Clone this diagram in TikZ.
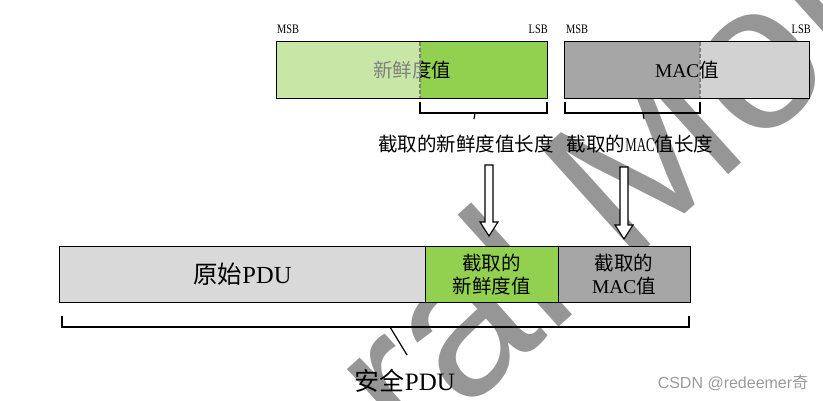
\documentclass[tikz,border=0pt]{standalone}
\usepackage{fontspec}
\setmainfont{Liberation Serif}
\newfontfamily\cjk{Noto Sans CJK SC}
\newfontfamily\wmfont{Liberation Sans}
\usetikzlibrary{calc}
\definecolor{fgreen}{HTML}{92D050}
\definecolor{mgray}{HTML}{A6A6A6}
\definecolor{pgray}{HTML}{D9D9D9}
\definecolor{wmgray}{HTML}{969696}
\definecolor{csdn}{HTML}{9A9A9A}
\newcommand\fs[1]{\fontsize{#1}{#1}\selectfont}
\newcommand\narrow[1]{\scalebox{0.66}[1]{#1}}
\begin{document}
\begin{tikzpicture}[x=1pt,y=-1pt,
  fieldbox/.style={draw=none, inner sep=0pt, minimum height=56pt},
  border/.style={draw=black, line width=1.3pt},
  divline/.style={draw=gray, line width=1.4pt, dash pattern=on 4pt off 2pt},
  brace/.style={draw=black, line width=1.2pt},
  lbl/.style={inner sep=0pt, font=\fs{19.5}},
  msb/.style={inner sep=0pt, font=\fs{13}},
  hollow/.style={draw=black, fill=white, line width=1.1pt, line join=miter},
  wm/.style={text=wmgray, inner sep=0pt, rotate=42, font=\wmfont\fs{208}}
]
\useasboundingbox (0,0) rectangle (823,401);
% watermark
\coordinate (wmA) at (462,414);
\node[wm, anchor=base east] (wm1) at (wmA) {Gener};
\node[wm, anchor=base west] (wm2) at (wmA) {al Motors};

% ---- top-left: freshness value
\node[fieldbox, fill=fgreen, minimum width=270pt] (fresh) at (412,70) {\cjk\fs{19.5}新鲜度值};
\coordinate (fdivT) at (420,42);
\coordinate (fdivB) at (420,98);
\fill[white, fill opacity=0.5] (fresh.north west) rectangle (fdivB);
\draw[divline] (fdivT) -- (fdivB);
\draw[border] (fresh.north west) rectangle (fresh.south east);
\node[msb, anchor=base west] (msb1) at (277,34) {\scalebox{0.8}[1]{MSB}};
\node[msb, anchor=base east] (lsb1) at (548,34) {\scalebox{0.8}[1]{LSB}};

% ---- top-right: MAC value
\node[fieldbox, fill=mgray, minimum width=244pt] (mac) at (687,70) {};
\coordinate (mdivT) at (700,42);
\coordinate (mdivB) at (700,98);
\fill[white, fill opacity=0.5] (mdivT) rectangle (mac.south east);
\draw[divline] (mdivT) -- (mdivB);
\draw[border] (mac.north west) rectangle (mac.south east);
\node[inner sep=0pt] (mactext) at (mac.center) {\fs{19.5}MAC{\cjk 值}};
\node[msb, anchor=base west] (msb2) at (566,34) {\scalebox{0.8}[1]{MSB}};
\node[msb, anchor=base east] (lsb2) at (811,34) {\scalebox{0.8}[1]{LSB}};

% ---- brackets under the truncated parts
\draw[brace] (420,102) -- (420,113) -- (547,113) -- (547,102);
\draw[brace] (475,113) -- (474,119);
\draw[brace] (565,102) -- (565,113) -- (700,113) -- (700,102);
\draw[brace] (643,113) -- (644,119);

% ---- length labels
\node[lbl] (lenF) at (466,144) {\cjk 截取的新鲜度值长度};
\node[lbl] (lenM) at (640,144) {{\cjk 截取的}\narrow{MAC}{\cjk 值长度}};

% ---- bottom secured PDU
\node[fieldbox, fill=pgray, minimum width=365pt, minimum height=55pt] (orig) at (242.5,274.5) {\fs{24.5}{\cjk 原始}PDU};
\node[fieldbox, fill=fgreen, minimum width=133pt, minimum height=55pt, align=center, font=\fs{19.5}] (tfresh) at (491.5,274.5) {\cjk 截取的\\[3pt]\cjk 新鲜度值};
\node[fieldbox, fill=mgray, minimum width=132pt, minimum height=55pt, align=center, font=\fs{19.5}] (tmac) at (624,274.5) {{\cjk 截取的}\\[3pt]MAC{\cjk 值}};
\draw[border] (orig.north west) rectangle (tmac.south east);
\draw[border] (orig.north east) -- (orig.south east);
\draw[border] (tfresh.north east) -- (tfresh.south east);

% ---- hollow arrows
\coordinate (a1s) at (489,165);
\coordinate (a1e) at (489,236);
\coordinate (a2s) at (624,167);
\coordinate (a2e) at (624,239);
\draw[hollow] ($(a1s)+(-4,0)$) -- ($(a1e)+(-4,-14)$) -- ($(a1e)+(-9,-14)$) -- (a1e) -- ($(a1e)+(9,-14)$) -- ($(a1e)+(4,-14)$) -- ($(a1s)+(4,0)$) -- cycle;
\draw[hollow] ($(a2s)+(-4,0)$) -- ($(a2e)+(-4,-14)$) -- ($(a2e)+(-9,-14)$) -- (a2e) -- ($(a2e)+(9,-14)$) -- ($(a2e)+(4,-14)$) -- ($(a2s)+(4,0)$) -- cycle;

% ---- bottom bracket and label
\draw[brace] (62,316) -- (62,327) -- (689,327) -- (689,316);
\coordinate (sbk) at (390,327);
\coordinate (sbl) at (407,355);
\draw[brace] (sbk) -- (sbl);
\node[inner sep=0pt, font=\fs{25}] (secpdu) at (405,381) {{\cjk 安全}PDU};

\node[inner sep=0pt, text=csdn, font=\wmfont\fs{16}] (csdnmark) at (733,383) {CSDN @redeemer{\cjk 奇}};
\end{tikzpicture}
\end{document}
